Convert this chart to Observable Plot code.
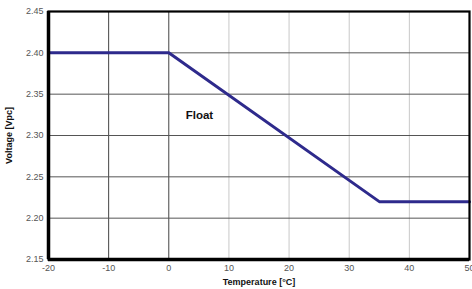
<!DOCTYPE html>
<html>
<head>
<meta charset="utf-8">
<script src="https://cdn.jsdelivr.net/npm/d3@7"></script>
<script src="https://cdn.jsdelivr.net/npm/@observablehq/plot@0.6"></script>
<style>
  html, body { margin: 0; padding: 0; background: #fff; }
  svg { font-family: "Liberation Sans", Arial, sans-serif; }
  g[aria-label="x-axis label"] text, g[aria-label="y-axis label"] text { font-weight: bold; fill: #111; }
</style>
</head>
<body>
<div id="chart"></div>
<script>
const temperature = [-20, 0, 35, 50];
const voltage = [2.40, 2.40, 2.22, 2.22];
const xTicks = [-20, -10, 0, 10, 20, 30, 40, 50];
const yTicks = [2.15, 2.20, 2.25, 2.30, 2.35, 2.40, 2.45];
const xGridDark = [-10, 0];
const xGridLight = [10, 20, 30, 40];
const yGrid = [2.20, 2.25, 2.30, 2.35, 2.40];
const annotation = [{x: 5.1, y: 2.325, text: "Float"}];

const data = temperature.map((t, i) => ({t, v: voltage[i]}));

const chart = Plot.plot({
  width: 472,
  height: 289,
  marginLeft: 48,
  marginRight: 3,
  marginTop: 11,
  marginBottom: 30,
  style: {fontSize: "9px", color: "#555"},
  x: {domain: [-20, 50]},
  y: {domain: [2.15, 2.45]},
  marks: [
    Plot.ruleX(xGridLight, {stroke: "#c8c8c8", strokeWidth: 1}),
    Plot.ruleX(xGridDark, {stroke: "#444", strokeWidth: 1}),
    Plot.ruleY(yGrid, {stroke: "#555", strokeWidth: 1}),
    Plot.axisX(xTicks, {tickSize: 0, tickPadding: 5, tickFormat: d => d, label: "Temperature [°C]", labelAnchor: "center", labelArrow: "none", labelOffset: 25}),
    Plot.axisY(yTicks, {tickSize: 0, tickPadding: 5, tickFormat: d3.format(".2f"), label: "Voltage [Vpc]", labelAnchor: "center", labelArrow: "none", labelOffset: 43}),
    Plot.line(data, {x: "t", y: "v", stroke: "#2e2a8c", strokeWidth: 3}),
    Plot.text(annotation, {x: "x", y: "y", text: "text", fontSize: 11.5, fontWeight: "bold", fill: "#111"}),
    Plot.frame({stroke: "#000", strokeWidth: 2.2}),
    Plot.ruleX([-20], {stroke: "#000", strokeWidth: 3.5}),
    Plot.ruleY([2.15], {stroke: "#000", strokeWidth: 3.5})
  ]
});
document.getElementById("chart").appendChild(chart);
</script>
</body>
</html>
